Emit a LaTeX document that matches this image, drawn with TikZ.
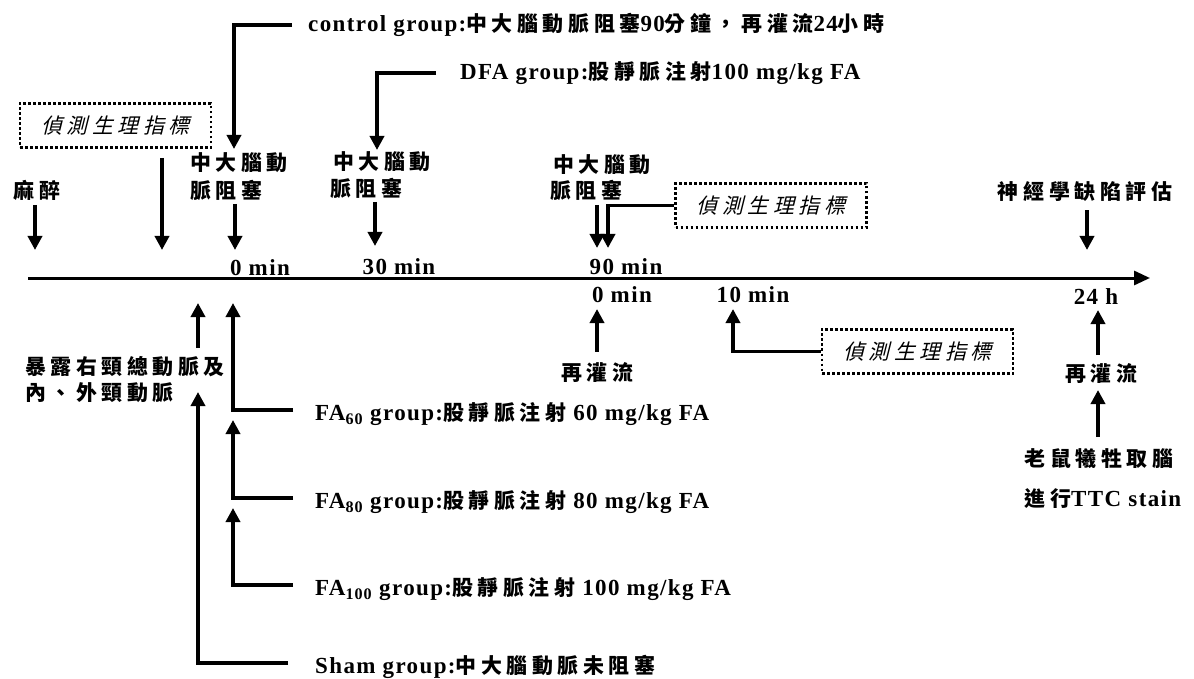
\documentclass[tikz,border=0pt]{standalone}
\usepackage{fontspec}
\setmainfont{Liberation Serif}[LetterSpace=6]
\newfontfamily\cjfont{Noto Sans CJK TC Bold}[Scale=0.91,LetterSpace=22]
\newfontfamily\cjit{Noto Sans CJK TC}[Scale=0.91,FakeSlant=0.25,LetterSpace=22]
\newcommand\zh[1]{{\cjfont #1}}
\usetikzlibrary{arrows.meta}
\tikzset{
 lab/.style={font=\fontsize{23}{27}\selectfont\bfseries, inner sep=0pt},
 arr/.style={line width=3.8pt, -{Triangle[width=14pt,length=14pt]}},
 axisline/.style={line width=3pt, -{Triangle[width=14pt,length=16pt]}},
 dotbox/.style={draw, line width=2.5pt, dash pattern=on 2.6pt off 2.4pt,
   minimum width=191pt, minimum height=44pt, inner sep=0pt,
   font=\fontsize{23}{27}\selectfont\cjit},
}
\begin{document}
\begin{tikzpicture}[x=1pt,y=-1pt]
\useasboundingbox (0,0) rectangle (1194,679);
\fill[white] (0,0) rectangle (1194,679);

% timeline
\coordinate (ax0) at (28,278);
\coordinate (ax1) at (1150,278);
\draw[axisline] (ax0) -- (ax1);

% anesthesia
\node[lab] (anes) at (37,190) {\zh{麻醉}};
\coordinate (anesTip) at (35,250);
\draw[arr] (35,205) -- (anesTip);

% box 1
\node[dotbox] (box1) at (115.5,125.5) {偵測生理指標};
\coordinate (b1s) at (162,158);
\coordinate (b1e) at (162,250);
\draw[arr] (b1s) -- (b1e);

% MCA occlusion 1
\node[lab,anchor=west] (mcaA1) at (190,163) {\zh{中大腦動}};
\node[lab,anchor=west] (mcaA2) at (190,190) {\zh{脈阻塞}};
\coordinate (mAs) at (235,204);
\coordinate (mAe) at (235,250);
\draw[arr] (mAs) -- (mAe);
\node[lab] (t0) at (260,268) {0 min};

% control group
\node[lab,anchor=west] (ctrl) at (308,25) {control group:\zh{中大腦動脈阻塞}90\zh{分鐘，再灌流}24\zh{小時}};
\coordinate (ctrlTip) at (234,149);
\draw[arr] ([xshift=-16pt]ctrl.west) -| (ctrlTip);

% MCA occlusion 2
\node[lab,anchor=west] (mcaB1) at (333,162) {\zh{中大腦動}};
\node[lab,anchor=west] (mcaB2) at (330,188) {\zh{脈阻塞}};
\coordinate (mBs) at (375,202);
\coordinate (mBe) at (375,246);
\draw[arr] (mBs) -- (mBe);
\node[lab] (t30) at (399,267) {30 min};

% DFA group
\node[lab,anchor=west] (dfa) at (460,73) {DFA group:\zh{股靜脈注射}100 mg/kg FA};
\coordinate (dfaTip) at (377,150);
\draw[arr] ([xshift=-24pt]dfa.west) -| (dfaTip);

% MCA occlusion 3
\node[lab,anchor=west] (mcaC1) at (553,165) {\zh{中大腦動}};
\node[lab,anchor=west] (mcaC2) at (550,190) {\zh{脈阻塞}};
\coordinate (mCs) at (597,205);
\coordinate (mCe) at (597,248);
\draw[arr] (mCs) -- (mCe);
\node[dotbox] (box2) at (771,205.5) {偵測生理指標};
\coordinate (b2Tip) at (608,248);
\draw[arr] (box2.west) -| (b2Tip);
\node[lab] (t90) at (626,267) {90 min};

% below axis: reperfusion
\node[lab] (r0) at (622,295) {0 min};
\node[lab] (r10) at (753,295) {10 min};
\node[lab] (rep1) at (597,372) {\zh{再灌流}};
\coordinate (rep1Tip) at (597,309);
\draw[arr] ([yshift=10pt]rep1.north) -- (rep1Tip);
\node[dotbox] (box3) at (917.5,351.5) {偵測生理指標};
\coordinate (b3Tip) at (733,309);
\draw[arr] (box3.west) -| (b3Tip);

% right side
\node[lab] (neuro) at (1085,192) {\zh{神經學缺陷評估}};
\coordinate (nTip) at (1087,250);
\draw[arr] ([yshift=-8pt]neuro.south -| nTip) -- (nTip);
\node[lab] (t24) at (1096,297) {24 h};
\node[lab] (rep2) at (1101,373) {\zh{再灌流}};
\coordinate (r2Tip) at (1098,310);
\draw[arr] (1098,355) -- (r2Tip);
\node[lab] (sac) at (1099,459) {\zh{老鼠犧牲取腦}};
\coordinate (r3Tip) at (1098,390);
\draw[arr] (1098,437) -- (r3Tip);
\node[lab] (ttc) at (1103,499) {\zh{進行}TTC stain};

% left bottom: exposure
\node[lab,anchor=west] (exp1) at (25,367) {\zh{暴露右頸總動脈及}};
\node[lab,anchor=west] (exp2) at (25,393) {\zh{內、外頸動脈}};
\coordinate (expTip) at (198,303);
\draw[arr] (198,348) -- (expTip);

% FA groups
\node[lab,anchor=west] (fa60) at (315,414) {FA\textsubscript{60} group:\zh{股靜脈注射} 60 mg/kg FA};
\coordinate (fa60Tip) at (233,303);
\draw[arr] ([xshift=-22pt,yshift=4pt]fa60.west) -| (fa60Tip);

\node[lab,anchor=west] (fa80) at (315,502) {FA\textsubscript{80} group:\zh{股靜脈注射} 80 mg/kg FA};
\coordinate (fa80Tip) at (233,420);
\draw[arr] ([xshift=-22pt,yshift=4pt]fa80.west) -| (fa80Tip);

\node[lab,anchor=west] (fa100) at (315,589) {FA\textsubscript{100} group:\zh{股靜脈注射} 100 mg/kg FA};
\coordinate (fa100Tip) at (233,508);
\draw[arr] ([xshift=-22pt,yshift=4pt]fa100.west) -| (fa100Tip);

\node[lab,anchor=west] (sham) at (315,667) {Sham group:\zh{中大腦動脈未阻塞}};
\coordinate (shamTip) at (198,392);
\draw[arr] ([xshift=-27pt,yshift=4pt]sham.west) -| (shamTip);
\end{tikzpicture}
\end{document}
